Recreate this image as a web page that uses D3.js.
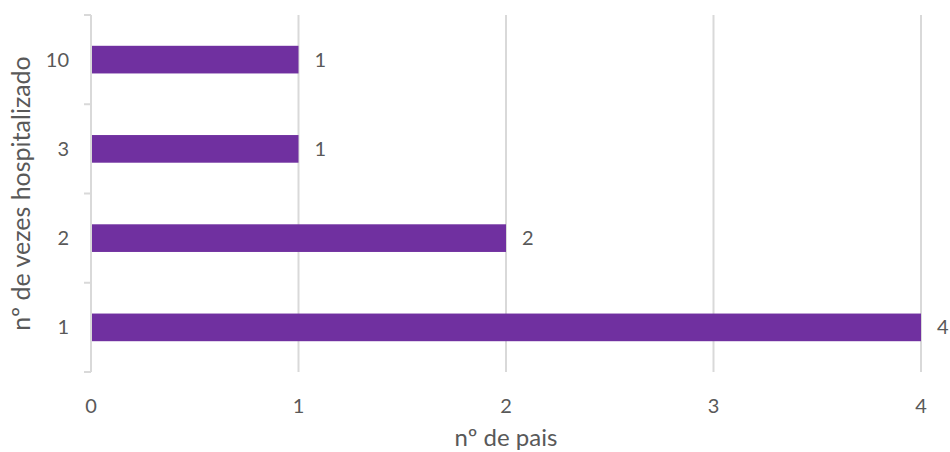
<!DOCTYPE html>
<html>
<head>
<meta charset="utf-8">
<script src="https://cdn.jsdelivr.net/npm/d3@7"></script>
<style>
  body { margin: 0; background: #fff; }
  text { font-family: Lato, "Open Sans", sans-serif; fill: #595959; }
</style>
</head>
<body>
<svg width="950" height="452"></svg>
<script>
const categories = ["10", "3", "2", "1"]
const values = [1, 1, 2, 4]
const xTicks = [0, 1, 2, 3, 4]

const svg = d3.select("svg")
const margin = { left: 91, right: 29, top: 15, bottom: 80 }
const w = 950 - margin.left - margin.right
const h = 452 - margin.top - margin.bottom

const x = d3.scaleLinear().domain([0, 4]).range([0, w])
const y = d3.scaleBand().domain(categories).range([0, h]).paddingInner(0.69).paddingOuter(0.345)

const g = svg.append("g").attr("transform", `translate(${margin.left},${margin.top})`)

// vertical gridlines
g.selectAll("line.grid")
    .data(xTicks.slice(1))
    .join("line")
    .attr("class", "grid")
    .attr("x1", d => x(d)).attr("x2", d => x(d))
    .attr("y1", 0).attr("y2", h)
    .attr("stroke", "#d9d9d9")
    .attr("stroke-width", 2)

// bars
g.selectAll("rect")
    .data(values)
    .join("rect")
    .attr("x", 0)
    .attr("y", (d, i) => y(categories[i]))
    .attr("width", d => x(d))
    .attr("height", y.bandwidth())
    .attr("fill", "#7030a0")

// value labels
g.selectAll("text.val")
    .data(values)
    .join("text")
    .attr("class", "val")
    .attr("x", d => x(d) + 16)
    .attr("y", (d, i) => y(categories[i]) + y.bandwidth() / 2)
    .attr("dy", "0.35em")
    .attr("font-size", 20)
    .text(d => d)

// y axis line with ticks between categories
const step = h / categories.length
g.append("line")
    .attr("x1", 0).attr("x2", 0)
    .attr("y1", 0).attr("y2", h)
    .attr("stroke", "#d9d9d9").attr("stroke-width", 2)
g.selectAll("line.ytick")
    .data(d3.range(categories.length + 1))
    .join("line")
    .attr("class", "ytick")
    .attr("x1", -7).attr("x2", 0)
    .attr("y1", d => d * step).attr("y2", d => d * step)
    .attr("stroke", "#d9d9d9").attr("stroke-width", 2)

// y tick labels
g.selectAll("text.ylab")
    .data(categories)
    .join("text")
    .attr("class", "ylab")
    .attr("x", -22)
    .attr("y", d => y(d) + y.bandwidth() / 2)
    .attr("dy", "0.35em")
    .attr("text-anchor", "end")
    .attr("font-size", 20)
    .text(d => d)

// x tick labels
g.selectAll("text.xlab")
    .data(xTicks)
    .join("text")
    .attr("class", "xlab")
    .attr("x", d => x(d))
    .attr("y", h + 41)
    .attr("text-anchor", "middle")
    .attr("font-size", 20)
    .text(d => d)

// axis titles
svg.append("text")
    .attr("x", margin.left + w / 2)
    .attr("y", 446)
    .attr("text-anchor", "middle")
    .attr("font-size", 24)
    .text("nº de pais")

svg.append("text")
    .attr("transform", `translate(30,${margin.top + h / 2}) rotate(-90)`)
    .attr("text-anchor", "middle")
    .attr("font-size", 25)
    .text("nº de vezes hospitalizado")
</script>
</body>
</html>
